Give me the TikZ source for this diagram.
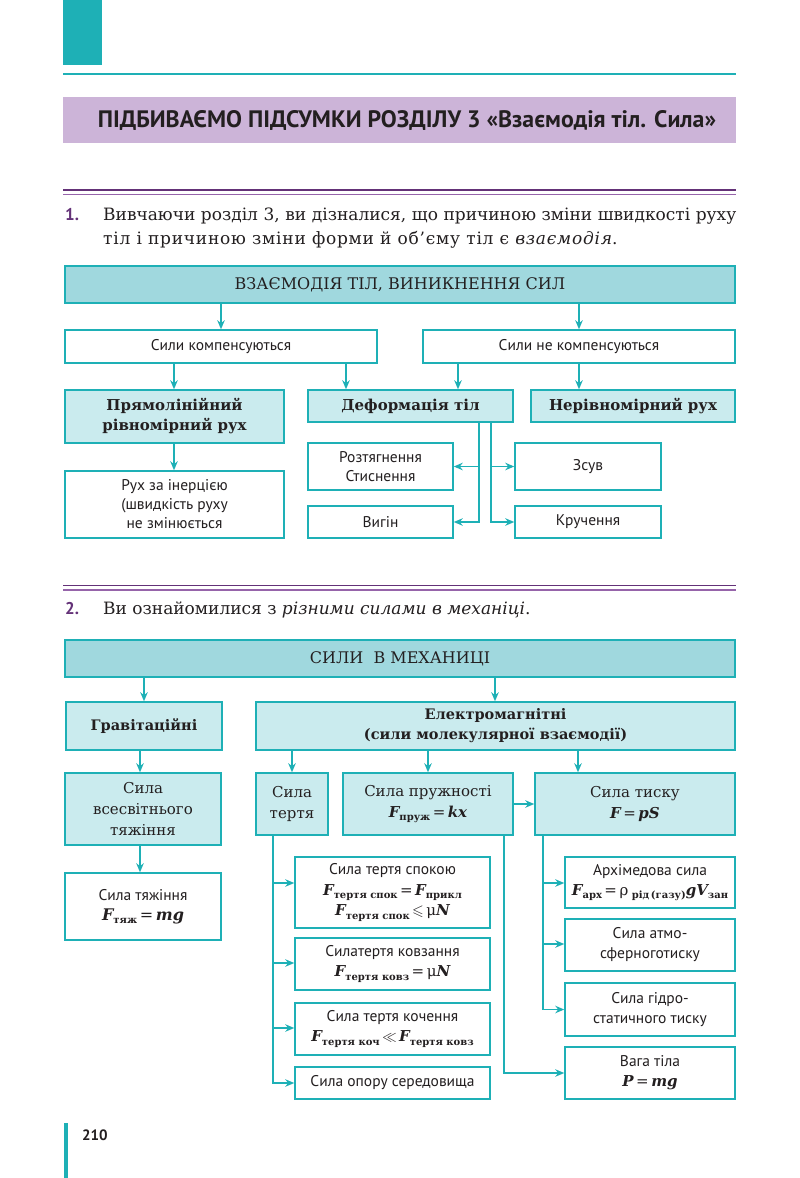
\documentclass[tikz,border=0pt]{standalone}
\usepackage{amsmath,amssymb}
\usepackage{fontspec}
\setmainfont{DejaVu Serif}
\setsansfont{PT Sans}
\usetikzlibrary{arrows.meta}
\definecolor{tealb}{RGB}{30,176,182}
\definecolor{fillA}{RGB}{160,216,222}
\definecolor{fillB}{RGB}{202,235,238}
\definecolor{purpband}{RGB}{204,180,216}
\definecolor{purpdark}{RGB}{100,50,120}
\definecolor{purplite}{RGB}{150,100,170}
\definecolor{ink}{RGB}{35,31,32}
\newcommand\ff[1]{{\bfseries\itshape #1}}
\newcommand\sbx[1]{\raisebox{-0.45ex}{\fontsize{10}{10}\selectfont\bfseries #1}}
\newcommand\bx[7]{%
  \pgfmathsetmacro\bcx{(#3+#5)/2}\pgfmathsetmacro\bcy{(#4+#6)/2}%
  \pgfmathsetmacro\bww{#5-#3}\pgfmathsetmacro\bhh{#6-#4}%
  \node[#2, minimum width=\bww pt, minimum height=\bhh pt] (#1) at (\bcx,\bcy) {#7};}
\begin{document}
\begin{tikzpicture}[x=1pt,y=-1pt,
  bxw/.style={draw=tealb,line width=1.5pt,fill=white,inner sep=0pt,align=center,text=ink,
    font=\fontsize{15.5}{19}\selectfont\sffamily},
  bxa/.style={bxw,fill=fillA,font=\fontsize{16}{20}\selectfont\rmfamily},
  bxb/.style={bxw,fill=fillB},
  hserif/.style={font=\fontsize{15}{20}\selectfont\bfseries},
  gserif/.style={font=\fontsize{14.5}{20}\selectfont\bfseries},
  rserif/.style={font=\fontsize{15}{21}\selectfont},
  fsans/.style={font=\fontsize{15.5}{20}\selectfont\sffamily},
  arr/.style={draw=tealb,line width=1.4pt,-{Stealth[length=9pt,width=7.5pt]}},
  ln/.style={draw=tealb,line width=1.4pt},
  body/.style={anchor=base west,inner sep=0pt,text=ink,font=\fontsize{17}{24}\selectfont},
  num/.style={anchor=base west,inner sep=0pt,text=purpdark,font=\fontsize{17}{24}\selectfont\sffamily\bfseries}]
\useasboundingbox (0,0) rectangle (800,1178);
\fill[white] (0,0) rectangle (800,1178);
% header
\fill[tealb] (63,0) rectangle (102,65);
\draw[tealb,line width=2pt] (63,74) -- (736,74);
\fill[purpband] (63,97) rectangle (736,143);
\node[inner sep=0pt,text=ink,font=\fontsize{23.8}{28}\selectfont\sffamily\bfseries] (hd) at (407,120)
  {ПІДБИВАЄМО ПІДСУМКИ РОЗДІЛУ 3 «Взаємодія тіл. Сила»};
\draw[purpdark,line width=1.6pt] (63,190) -- (736,190);
\draw[purplite,line width=1.4pt] (63,194.5) -- (736,194.5);
% section 1 text
\node[num] (n1) at (65,220) {1.};
\node[body] (t1a) at (103,220) {\makebox[633pt][s]{Вивчаючи розділ 3, ви дізналися, що причиною зміни швидкості руху}};
\node[body] (t1b) at (103,244) {\addfontfeature{LetterSpace=4.5}тіл і причиною зміни форми й об’єму тіл є \textit{взаємодія}.};
% section 1 diagram
\bx{top1}{bxa}{65}{266}{735}{303}{ВЗАЄМОДІЯ ТІЛ, ВИНИКНЕННЯ СИЛ}
\bx{komp}{bxw}{65}{330}{377}{363}{Сили компенсуються}
\bx{nekomp}{bxw}{423}{330}{735}{363}{Сили не компенсуються}
\bx{pryam}{bxb,hserif}{65}{390}{284}{443}{Прямолінійний\\рівномірний рух}
\bx{deform}{bxb,hserif}{308}{390}{513}{422}{Деформація тіл}
\bx{nerivn}{bxb,hserif}{531}{390}{735}{422}{Нерівномірний рух}
\bx{inerc}{bxw}{65}{471}{284}{538}{Рух за інерцією\\(швидкість руху\\не змінюється}
\bx{rozt}{bxw}{308}{443}{453}{490}{Розтягнення\\Стиснення}
\bx{vygin}{bxw}{308}{506}{453}{538}{Вигін}
\bx{zsuv}{bxw}{515}{443}{661}{490}{Зсув}
\bx{kruch}{bxw}{515}{506}{661}{538}{Кручення}
\draw[arr] (top1.south -| 221,0) -- (komp.north -| 221,0);
\draw[arr] (top1.south -| 579,0) -- (nekomp.north -| 579,0);
\draw[arr] (komp.south -| 174,0) -- (pryam.north -| 174,0);
\draw[arr] (komp.south -| 346,0) -- (deform.north -| 346,0);
\draw[arr] (nekomp.south -| 458,0) -- (deform.north -| 458,0);
\draw[arr] (nekomp.south -| 579,0) -- (nerivn.north -| 579,0);
\draw[arr] (pryam.south -| 174,0) -- (inerc.north -| 174,0);
\coordinate (dl) at (479,466.5);
\coordinate (dr) at (491,466.5);
\draw[arr] (deform.south -| dl) |- (vygin.east);
\draw[arr] (dl) -- (rozt.east);
\draw[arr] (deform.south -| dr) |- (kruch.west);
\draw[arr] (dr) -- (zsuv.west);
% section 2 text
\draw[purpdark,line width=1.6pt] (63,585.5) -- (736,585.5);
\draw[purplite,line width=1.4pt] (63,590) -- (736,590);
\node[num] (n2) at (65,614) {2.};
\node[body] (t2) at (103,614) {Ви ознайомилися з \textit{різними силами в механіці}.};
% section 2 diagram
\bx{sily}{bxa}{65}{640}{735}{677}{СИЛИ \ В МЕХАНИЦІ}
\bx{grav}{bxb,gserif}{66}{702}{222}{750}{Гравітаційні}
\bx{elmag}{bxb,gserif}{256}{702}{735}{750}{Електромагнітні\\(сили молекулярної взаємодії)}
\bx{vsesv}{bxb,rserif}{65}{773}{221}{845}{Сила\\всесвітнього\\тяжіння}
\bx{tyazh}{bxw,fsans}{65}{873}{221}{940}{Сила тяжіння\\{\fontsize{16}{20}\selectfont\rmfamily\ff{F}\sbx{тяж}\,=\,\ff{mg}}}
\bx{tertya}{bxb,rserif}{256}{773}{328}{835}{Сила\\тертя}
\bx{pruzh}{bxb,rserif}{343}{773}{513}{835}{Сила пружності\\\ff{F}\sbx{пруж}\,=\,\ff{kx}}
\bx{tysku}{bxb,rserif}{535}{773}{735}{835}{Сила тиску\\\ff{F}\,=\,\ff{pS}}
\bx{spok}{bxw,font=\fontsize{15.5}{20.5}\selectfont\sffamily}{295}{857}{490}{928}{Сила тертя спокою\\{\rmfamily\fontsize{15}{20}\selectfont\ff{F}\sbx{тертя спок}\,=\,\ff{F}\sbx{прикл}}\\{\rmfamily\fontsize{15}{20}\selectfont\ff{F}\sbx{тертя спок}\,$\leqslant$\,μ\ff{N}}}
\bx{kovz}{bxw,fsans}{295}{938}{490}{990}{Силатертя ковзання\\{\rmfamily\fontsize{15}{20}\selectfont\ff{F}\sbx{тертя ковз}\,=\,μ\ff{N}}}
\bx{koch}{bxw,fsans}{295}{1003}{490}{1055}{Сила тертя кочення\\{\rmfamily\fontsize{15}{20}\selectfont\ff{F}\sbx{тертя коч}\,$\ll$\,\ff{F}\sbx{тертя ковз}}}
\bx{opor}{bxw,fsans}{295}{1067}{490}{1099}{Сила опору середовища}
\bx{arkh}{bxw,fsans}{565}{857}{735}{908}{Архімедова сила\\{\rmfamily\fontsize{15}{20}\selectfont\ff{F}\sbx{арх}\,=\,ρ\sbx{ рід\,(газу)}\ff{gV}\sbx{зан}}}
\bx{atmo}{bxw,fsans}{565}{919}{735}{971}{Сила атмо-\\сферноготиску}
\bx{gidro}{bxw,fsans}{565}{983}{735}{1036}{Сила гідро-\\статичного тиску}
\bx{vaga}{bxw,fsans}{565}{1047}{735}{1099}{Вага тіла\\{\rmfamily\fontsize{15}{20}\selectfont\ff{P}\,=\,\ff{mg}}}
\draw[arr] (sily.south -| 144,0) -- (grav.north -| 144,0);
\draw[arr] (sily.south -| 495,0) -- (elmag.north -| 495,0);
\draw[arr] (grav.south -| 140,0) -- (vsesv.north -| 140,0);
\draw[arr] (vsesv.south -| 140,0) -- (tyazh.north -| 140,0);
\draw[arr] (elmag.south -| 292,0) -- (tertya.north -| 292,0);
\draw[arr] (elmag.south -| 428,0) -- (pruzh.north -| 428,0);
\draw[arr] (elmag.south -| 578,0) -- (tysku.north -| 578,0);
\draw[arr] (pruzh.east) -- (tysku.west);
% friction branch
\coordinate (f1) at (273,883);
\coordinate (f2) at (273,963);
\coordinate (f3) at (273,1028);
\draw[ln] (tertya.south -| f1) -- (f1);
\draw[arr] (f1) -- (spok.west |- f1);
\draw[arr] (f1) -- (f2) -- (kovz.west |- f2);
\draw[arr] (f2) -- (f3) -- (koch.west |- f3);
\draw[arr] (f3) |- (opor.west);
% pressure branch
\coordinate (p1) at (543,883);
\coordinate (p2) at (543,944);
\draw[ln] (tysku.south -| p1) -- (p1);
\draw[arr] (p1) -- (arkh.west |- p1);
\draw[arr] (p1) -- (p2) -- (atmo.west |- p2);
\draw[arr] (p2) |- (gidro.west);
% elasticity to weight
\draw[arr] (pruzh.south -| 504,0) |- (vaga.west);
% page number
\fill[tealb] (64,1123) rectangle (67.5,1178);
\node[anchor=base west,inner sep=0pt,text=ink,font=\fontsize{15}{18}\selectfont\sffamily\bfseries] (pg) at (82,1140) {210};
\end{tikzpicture}
\end{document}
